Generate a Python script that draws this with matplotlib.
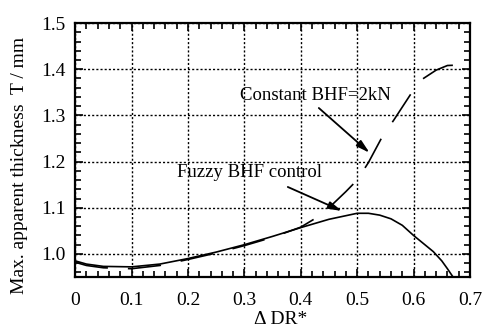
import numpy as np
import matplotlib
matplotlib.use("Agg")
import matplotlib.pyplot as plt
from matplotlib.ticker import MultipleLocator

# Fuzzy BHF control (solid)
fuzzy_x = [0.0, 0.02, 0.05, 0.10, 0.15, 0.20, 0.25, 0.30, 0.35, 0.40, 0.45, 0.50, 0.52,
           0.54, 0.56, 0.58, 0.60, 0.62, 0.635, 0.65, 0.66, 0.67]
fuzzy_y = [0.985, 0.978, 0.973, 0.972, 0.978, 0.990, 1.004, 1.020, 1.038, 1.057, 1.075, 1.088, 1.088,
           1.084, 1.076, 1.062, 1.040, 1.020, 1.005, 0.985, 0.968, 0.950]

# Constant BHF = 2kN (dashed)
const_x = [0.0, 0.02, 0.05, 0.10, 0.15, 0.20, 0.25, 0.30, 0.35, 0.40, 0.43, 0.45, 0.48, 0.50,
           0.52, 0.545, 0.565, 0.595, 0.615, 0.64, 0.66, 0.70]
const_y = [0.982, 0.975, 0.970, 0.968, 0.975, 0.988, 1.002, 1.018, 1.036, 1.058, 1.080, 1.100, 1.135, 1.160,
           1.198, 1.255, 1.290, 1.346, 1.378, 1.398, 1.408, 1.410]

xticks = [0, 0.1, 0.2, 0.3, 0.4, 0.5, 0.6, 0.7]
xtick_labels = ["0", "0.1", "0.2", "0.3", "0.4", "0.5", "0.6", "0.7"]
yticks = [1.0, 1.1, 1.2, 1.3, 1.4, 1.5]
ytick_labels = ["1.0", "1.1", "1.2", "1.3", "1.4", "1.5"]

plt.rcParams["font.family"] = ["Liberation Serif", "DejaVu Serif"]

fig = plt.figure(figsize=(4.85, 3.29), dpi=100)
ax = fig.add_axes([0.155, 0.158, 0.814, 0.772])

ax.plot(fuzzy_x, fuzzy_y, color="black", lw=1.2)
ax.plot(const_x, const_y, color="black", lw=1.2, dashes=(20, 12))

ax.set_xlim(0, 0.7)
ax.set_ylim(0.95, 1.5)
ax.xaxis.set_minor_locator(MultipleLocator(0.02))
ax.yaxis.set_minor_locator(MultipleLocator(0.02))
ax.set_xticks(xticks)
ax.set_xticklabels(xtick_labels)
ax.set_yticks(yticks)
ax.set_yticklabels(ytick_labels)
ax.tick_params(which="both", direction="in", top=True, right=True, labelsize=14, width=1.2)
ax.tick_params(which="major", length=6)
ax.tick_params(axis="x", which="major", pad=11)
ax.tick_params(axis="y", which="major", pad=7)
ax.tick_params(which="minor", length=4)
ax.grid(True, which="major", color="black", linestyle=(0, (1.5, 1.5)), lw=1.0)
for s in ax.spines.values():
    s.set_linewidth(1.6)

ax.set_xlabel("Δ DR*", fontsize=14)
ax.xaxis.set_label_coords(0.52, -0.135)
ax.set_ylabel("Max. apparent thickness  T / mm", fontsize=14)
ax.yaxis.set_label_coords(-0.12, 0.44)

# labels and arrows
ax.text(0.292, 1.342, "Constant BHF=2kN", fontsize=13.5, ha="left", va="center")
ax.text(0.181, 1.176, "Fuzzy BHF control", fontsize=13.5, ha="left", va="center")
arrow = dict(arrowstyle="-|>,head_length=0.8,head_width=0.22", color="black", lw=1.3,
             shrinkA=0, shrinkB=0)
ax.annotate("", xy=(0.522, 1.219), xytext=(0.432, 1.316), arrowprops=arrow)
ax.annotate("", xy=(0.473, 1.093), xytext=(0.377, 1.145), arrowprops=arrow)

fig.savefig("out.png", dpi=100)
